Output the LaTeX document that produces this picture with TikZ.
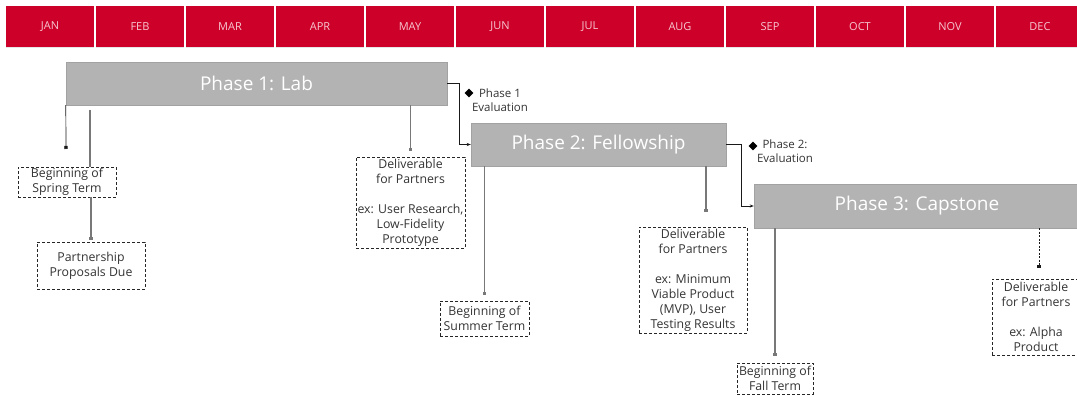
\documentclass[tikz,border=0pt]{standalone}
\usepackage{fontspec}
\setmainfont{Open Sans}
\usetikzlibrary{shapes, shapes.geometric, arrows, arrows.meta, shadows}

\definecolor{monthred}{RGB}{204,0,41}
\definecolor{monthtext}{RGB}{247,200,208}
\definecolor{phasegray}{RGB}{179,179,179}
\definecolor{phaseedge}{RGB}{162,162,162}
\definecolor{linkgray}{RGB}{120,120,120}
\definecolor{notetext}{RGB}{51,51,51}

\tikzset{
  month/.style={rectangle, fill=monthred, text=monthtext, minimum width=88pt, minimum height=41pt, inner sep=0pt, font=\fontsize{11}{13}\selectfont, drop shadow={shadow xshift=0pt, shadow yshift=-1.5pt, opacity=0.2}},
  phase/.style={rectangle, fill=phasegray, draw=phaseedge, text=white, minimum height=43pt, inner sep=0pt, font=\fontsize{19}{23}\selectfont},
  note/.style={rectangle, draw=black!85, dash pattern=on 3pt off 2pt, inner sep=0pt, align=center, text=notetext, font=\fontsize{12.3}{15}\selectfont},
  evaltext/.style={align=center, text=notetext, font=\fontsize{11.5}{14}\selectfont},
  stem/.style={draw=linkgray, line width=1.4pt},
  thinstem/.style={draw=black!90, line width=0.7pt},
  enddot/.style={-{Square[length=3.2pt, width=3.2pt]}},
}

\begin{document}
\begin{tikzpicture}[x=1pt, y=-1pt]
\clip (0,0) rectangle (1077,395);

% months
\foreach \m [count=\i from 0] in {JAN,FEB,MAR,APR,MAY,JUN,JUL,AUG,SEP,OCT,NOV,DEC}
  \node[month] (m\i) at ({50+90*\i}, 26.5) {\m};

% phases
\node[phase, minimum width=381pt] (p1) at (256.5, 83.5) {Phase 1: Lab};
\node[phase, minimum width=255pt] (p2) at (598.5, 144.5) {Phase 2: Fellowship};
\node[phase, minimum width=326pt, minimum height=44pt] (p3) at (917, 206) {Phase 3: Capstone};

% milestones
\node[note, minimum width=98pt, minimum height=30pt] (b1) at (67, 182) {Beginning of\\Spring Term};
\node[note, minimum width=108pt, minimum height=47pt] (b2) at (91, 265.5) {Partnership\\Proposals Due};
\node[note, minimum width=109pt, minimum height=91pt] (b3) at (410.5, 202.5) {Deliverable\\for Partners\\[15pt]ex: User Research,\\Low-Fidelity\\Prototype};
\node[note, minimum width=89pt, minimum height=35pt] (b4) at (484.5, 318.5) {Beginning of\\Summer Term};
\node[note, minimum width=108pt, minimum height=106pt] (b5) at (693, 280) {Deliverable\\for Partners\\[15pt]ex: Minimum\\Viable Product\\(MVP), User\\Testing Results};
\node[note, minimum width=76pt, minimum height=31pt] (b6) at (775, 378.5) {Beginning of\\Fall Term};
\node[note, minimum width=88pt, minimum height=76pt] (b7) at (1036, 317) {Deliverable\\for Partners\\[15pt]ex: Alpha\\Product};

% evaluations
\node[diamond, fill=black, inner sep=0pt, minimum size=9pt] (e1) at (469, 93) {};
\node[evaltext] (t1) at (500, 100) {Phase 1\\Evaluation};
\node[diamond, fill=black, inner sep=0pt, minimum size=9pt] (e2) at (753, 146) {};
\node[evaltext] (t2) at (785, 151) {Phase 2:\\Evaluation};

\coordinate (c1) at (66, 149);
\coordinate (c2) at (90, 110);
\coordinate (c3) at (706, 212);
\coordinate (c4) at (1039, 268);

\draw[thinstem, enddot] (p1.south west) -- (c1);
\draw[stem] (c2) -- (c2 |- b1.north);
\draw[stem, enddot, shorten >=2pt] (b2.north |- b1.south) -- (b2.north);
\draw[stem, enddot, shorten >=6pt] (b3.north |- p1.south) -- (b3.north);
\draw[stem, enddot, shorten >=6pt] (b4.north |- p2.south) -- (b4.north);
\draw[stem, enddot] (c3 |- p2.south) -- (c3);
\draw[stem, enddot, shorten >=7pt] (b6.north |- p3.south) -- (b6.north);
\draw[thinstem, dash pattern=on 2pt off 1.5pt, enddot] (c4 |- p3.south) -- (c4);

\draw[thinstem, -{Stealth[length=4pt, width=3pt]}] (p1.east) -- ++(12,0) |- (p2.west);
\draw[thinstem, -{Stealth[length=4pt, width=3pt]}] (p2.east) -- ++(15,0) |- (p3.west);
\end{tikzpicture}
\end{document}
